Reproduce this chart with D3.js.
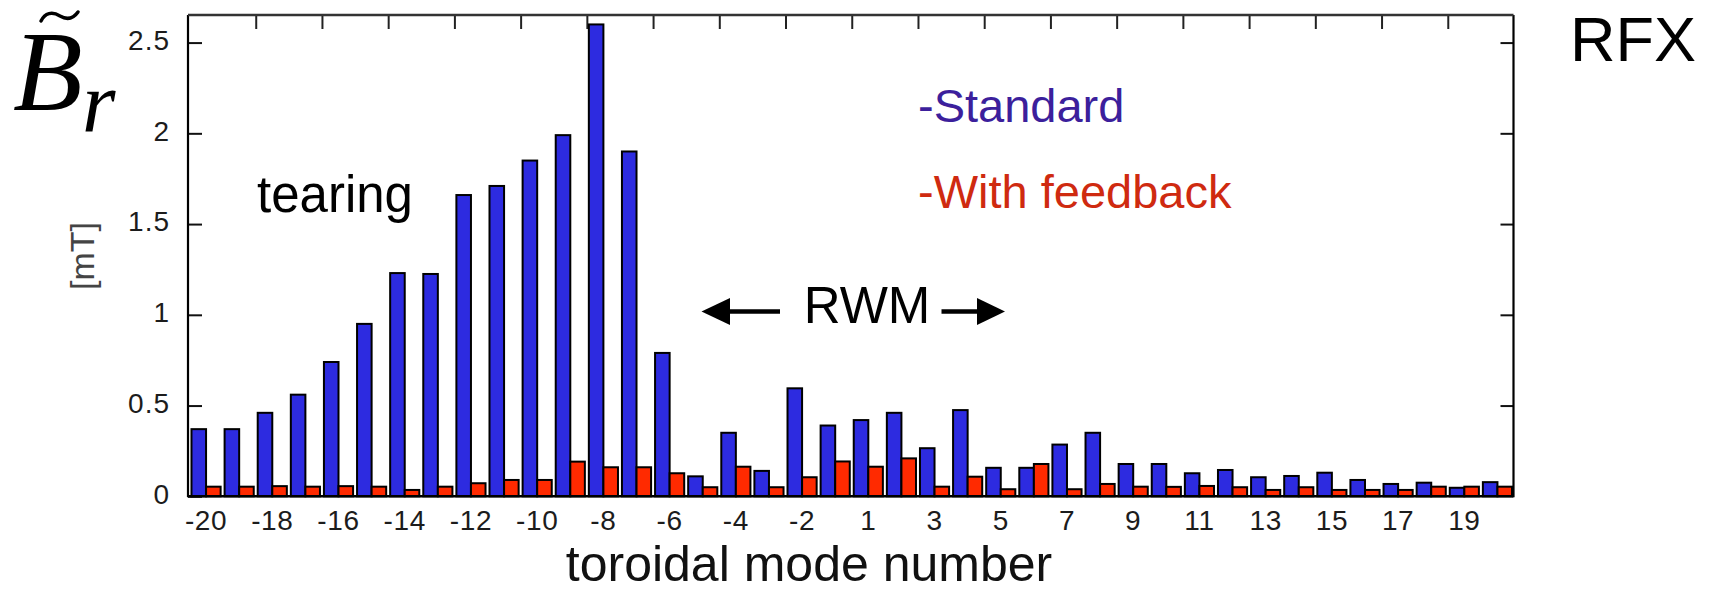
<!DOCTYPE html>
<html>
<head>
<meta charset="utf-8">
<script src="https://cdn.jsdelivr.net/npm/d3@7"></script>
<style>
  html, body { margin: 0; padding: 0; background: #fff; }
  svg { display: block; }
  text { font-family: "Liberation Sans", Arial, Helvetica, sans-serif; }
</style>
</head>
<body>
<script>
// Toroidal mode numbers (mode 0 is not present)
const categories = [-20, -19, -18, -17, -16, -15, -14, -13, -12, -11, -10, -9, -8, -7, -6, -5, -4, -3, -2, -1,
                    1, 2, 3, 4, 5, 6, 7, 8, 9, 10, 11, 12, 13, 14, 15, 16, 17, 18, 19, 20];

// Radial field amplitude [mT], standard operation
const standardValues = [0.37, 0.37, 0.46, 0.56, 0.74, 0.95, 1.23, 1.225, 1.66, 1.71, 1.85, 1.99, 2.60, 1.90, 0.79, 0.11, 0.35, 0.14, 0.595, 0.39,
                        0.42, 0.46, 0.265, 0.475, 0.157, 0.157, 0.285, 0.35, 0.178, 0.178, 0.127, 0.145, 0.105, 0.112, 0.13, 0.09, 0.068, 0.075, 0.047, 0.078];

// Radial field amplitude [mT], with feedback control
const feedbackValues = [0.053, 0.053, 0.056, 0.053, 0.056, 0.053, 0.035, 0.053, 0.072, 0.09, 0.09, 0.191, 0.16, 0.16, 0.127, 0.05, 0.163, 0.05, 0.105, 0.192,
                        0.163, 0.209, 0.053, 0.108, 0.039, 0.178, 0.039, 0.068, 0.053, 0.052, 0.057, 0.05, 0.035, 0.05, 0.035, 0.035, 0.035, 0.053, 0.053, 0.053];

const xTickLabels = [-20, -18, -16, -14, -12, -10, -8, -6, -4, -2, 1, 3, 5, 7, 9, 11, 13, 15, 17, 19];
const yTickValues = [0, 0.5, 1, 1.5, 2, 2.5];
const seriesNames = ["Standard", "With feedback"];
const seriesColors = ["#2d2be0", "#ff2a00"];

const W = 1710, H = 591;
const frame = { left: 188, right: 1513.5, top: 15, bottom: 496.3 };

const svg = d3.select("body").append("svg")
  .attr("width", W).attr("height", H)
  .attr("viewBox", `0 0 ${W} ${H}`);

svg.append("rect").attr("width", W).attr("height", H).attr("fill", "#fff");

// Scales
const x = d3.scaleBand().domain(categories).range([189.5, 1514]).paddingInner(0).paddingOuter(0);
const bw = x.bandwidth();
const xSub = d3.scaleBand().domain(seriesNames).range([bw * 0.06, bw * 0.94]);
const xEdge = d3.scaleLinear().domain([0, categories.length]).range(x.range());
const y = d3.scaleLinear().domain([0, 2.652]).range([frame.bottom, frame.top]);

// Axes with inward ticks
const leftAxis = svg.append("g").attr("transform", `translate(${frame.left},0)`)
  .call(d3.axisLeft(y).tickValues(yTickValues).tickSize(-14).tickPadding(18).tickFormat(d => String(d)));
leftAxis.select(".domain").remove();
leftAxis.selectAll(".tick line").attr("stroke", "#111").attr("stroke-width", 2);
leftAxis.selectAll(".tick text").attr("font-size", 28).attr("fill", "#1c1c1c").attr("dy", "0.24em")
  .attr("letter-spacing", 1)
  .style("font-family", "'Liberation Sans', Arial, sans-serif");

const rightAxis = svg.append("g").attr("transform", `translate(${frame.right},0)`)
  .call(d3.axisRight(y).tickValues(yTickValues.slice(1)).tickSize(-13).tickFormat(""));
rightAxis.select(".domain").remove();
rightAxis.selectAll(".tick line").attr("stroke", "#111").attr("stroke-width", 2);

const topAxis = svg.append("g").attr("transform", `translate(0,${frame.top})`)
  .call(d3.axisTop(xEdge).tickValues(d3.range(2, categories.length, 2)).tickSize(-14).tickFormat(""));
topAxis.select(".domain").remove();
topAxis.selectAll(".tick line").attr("stroke", "#222").attr("stroke-width", 2);

const bottomAxis = svg.append("g").attr("transform", `translate(0,${frame.bottom})`)
  .call(d3.axisBottom(x).tickValues(xTickLabels).tickSize(0).tickPadding(14));
bottomAxis.select(".domain").remove();
bottomAxis.selectAll(".tick text").attr("font-size", 28).attr("fill", "#1c1c1c")
  .attr("letter-spacing", 0.6)
  .style("font-family", "'Liberation Sans', Arial, sans-serif");

// Grouped bars
const rows = categories.map((c, i) => ({ c, vals: [standardValues[i], feedbackValues[i]] }));
const groups = svg.append("g").selectAll("g").data(rows).join("g")
  .attr("transform", d => `translate(${x(d.c)},0)`);
groups.selectAll("rect")
  .data(d => d.vals.map((v, k) => ({ name: seriesNames[k], v, k })))
  .join("rect")
  .attr("x", d => xSub(d.name))
  .attr("width", xSub.bandwidth())
  .attr("y", d => y(d.v))
  .attr("height", d => y(0) - y(d.v))
  .attr("fill", d => seriesColors[d.k])
  .attr("stroke", "#000")
  .attr("stroke-width", 2);

// Plot frame
svg.append("line").attr("x1", frame.left).attr("x2", frame.left).attr("y1", frame.top).attr("y2", frame.bottom + 1)
  .attr("stroke", "#000").attr("stroke-width", 2.2);
svg.append("line").attr("x1", frame.right).attr("x2", frame.right).attr("y1", frame.top).attr("y2", frame.bottom + 1)
  .attr("stroke", "#000").attr("stroke-width", 2.2);
svg.append("line").attr("x1", frame.left).attr("x2", frame.right).attr("y1", frame.top).attr("y2", frame.top)
  .attr("stroke", "#333").attr("stroke-width", 2.4);
svg.append("line").attr("x1", frame.left).attr("x2", frame.right).attr("y1", frame.bottom).attr("y2", frame.bottom)
  .attr("stroke", "#000").attr("stroke-width", 2.6);

// Axis titles
svg.append("text").attr("x", 809).attr("y", 581).attr("text-anchor", "middle")
  .attr("font-size", 50).attr("fill", "#111").text("toroidal mode number");

svg.append("text").attr("transform", "translate(94,256) rotate(-90)").attr("text-anchor", "middle")
  .attr("font-size", 34).attr("fill", "#444").text("[mT]");

// B-tilde subscript r
svg.append("text").attr("x", 13).attr("y", 110)
  .style("font-family", "'Liberation Serif', 'Times New Roman', serif")
  .attr("font-style", "italic").attr("font-size", 114).attr("fill", "#000").text("B");
svg.append("text").attr("x", 82).attr("y", 132)
  .style("font-family", "'Liberation Serif', 'Times New Roman', serif")
  .attr("font-style", "italic").attr("font-size", 86).attr("fill", "#000").text("r");
svg.append("path").attr("d", "M41,21 C45,13 52,11 60,16 C67,20 73,19 78,12")
  .attr("fill", "none").attr("stroke", "#000").attr("stroke-width", 3.5).attr("stroke-linecap", "round");

// Annotations
svg.append("text").attr("x", 257).attr("y", 212).attr("font-size", 51).attr("fill", "#000").text("tearing");

svg.append("text").attr("x", 918).attr("y", 122).attr("font-size", 47).attr("fill", "#3c1f9c").text("-Standard");
svg.append("text").attr("x", 918).attr("y", 208).attr("font-size", 47).attr("fill", "#cf2a10").text("-With feedback");

svg.append("text").attr("x", 1570).attr("y", 61).attr("font-size", 63).attr("fill", "#000").text("RFX");

svg.append("text").attr("x", 867).attr("y", 323).attr("text-anchor", "middle")
  .attr("font-size", 51).attr("fill", "#000").text("RWM");

// RWM arrows
const ay = 311.5;
svg.append("line").attr("x1", 726).attr("x2", 780).attr("y1", ay).attr("y2", ay)
  .attr("stroke", "#000").attr("stroke-width", 4.5);
svg.append("path").attr("d", `M701.5,${ay} L730,${ay - 13.5} L730,${ay + 13.5} Z`).attr("fill", "#000");
svg.append("line").attr("x1", 941.5).attr("x2", 982).attr("y1", ay).attr("y2", ay)
  .attr("stroke", "#000").attr("stroke-width", 4.5);
svg.append("path").attr("d", `M1005,${ay} L977,${ay - 13.5} L977,${ay + 13.5} Z`).attr("fill", "#000");
</script>
</body>
</html>
